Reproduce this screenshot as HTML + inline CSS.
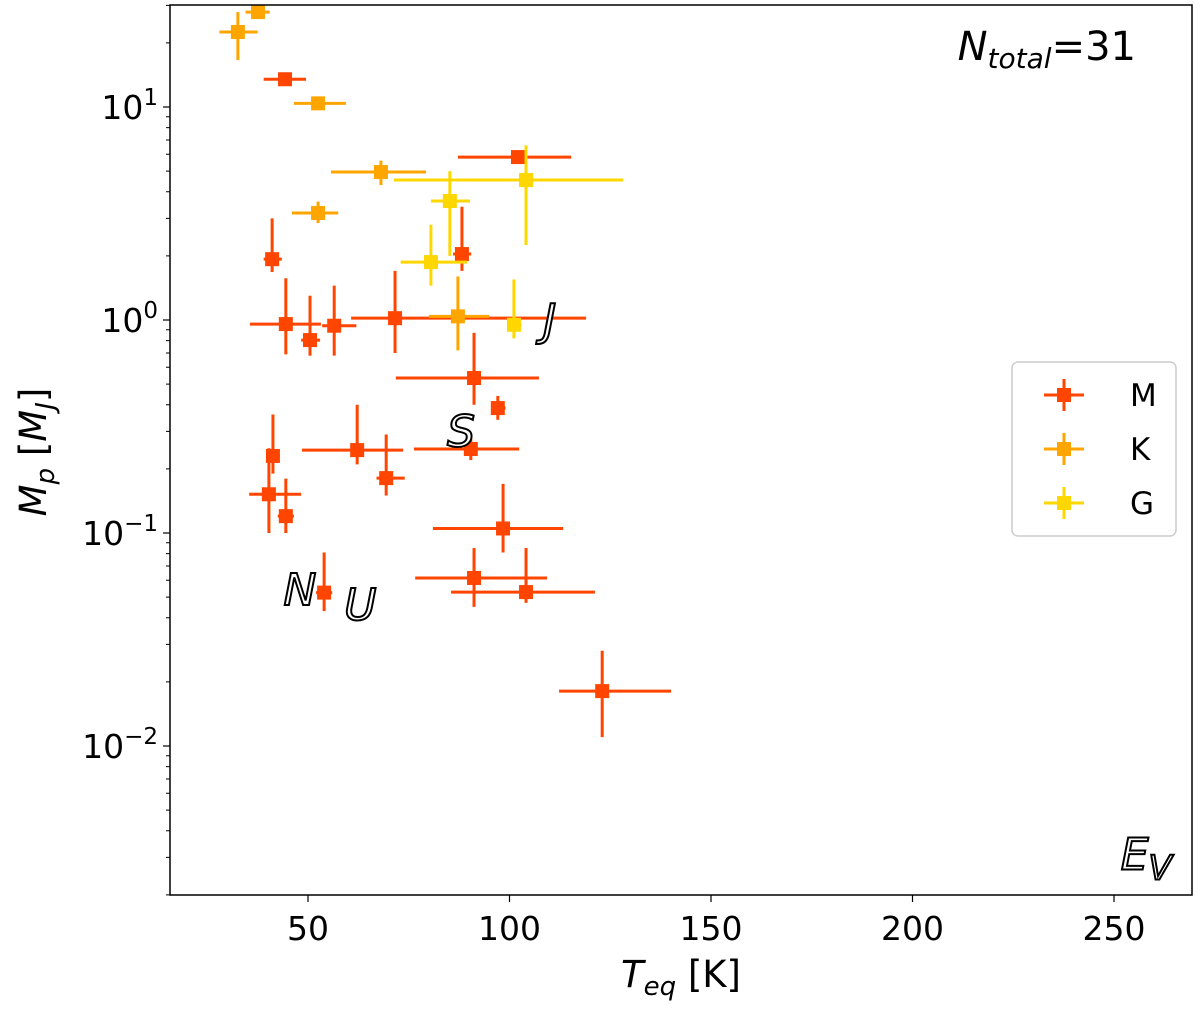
<!DOCTYPE html>
<html><head><meta charset="utf-8"><style>
html,body{margin:0;padding:0;background:#fff}
svg{display:block;font-family:"DejaVu Sans","Liberation Sans",sans-serif}
</style></head><body>
<svg id="chart" width="1200" height="1011" viewBox="0 0 1200 1011" xmlns="http://www.w3.org/2000/svg">
<g id="marks"></g>
<g id="axes"></g>
</svg>
<script>
const xTicks = [50, 100, 150, 200, 250];
const yTickExps = [1, 0, -1, -2];
const typeNames = ["M", "K", "G"];
const typeColors = ["#ff4500", "#ffa500", "#ffd700"];
// per-point data: spectral type index, Teq, Teq low, Teq high, Mp, Mp low, Mp high
const ptType = [1,1,0,1,0,1,2,2,1,0,0,2,0,0,0,0,1,2,0,0,0,0,0,0,0,0,0,0,0,0,0];
const ptT   = [32.6,37.6,44.3,52.5,102.1,68.1,104.1,85.2,52.5,41.1,88.2,80.5,44.5,50.5,56.5,71.6,87.2,101.1,91.2,97.1,90.4,62.2,69.4,41.3,40.3,44.5,98.4,91.2,104.1,54.0,123.0];
const ptTlo = [28.0,34.5,39.0,46.5,87.2,55.7,71.3,80.5,46.0,39.0,86.0,73.0,35.6,48.3,53.5,60.7,80.0,99.5,71.8,95.5,76.3,48.5,67.0,39.8,35.4,42.5,81.0,76.6,85.5,52.0,112.3];
const ptThi = [37.5,40.5,49.5,59.4,115.3,79.3,128.2,90.2,57.5,43.5,90.5,89.5,53.2,53.0,62.0,119.0,95.0,103.0,107.3,99.0,102.4,73.6,74.0,43.0,48.3,46.5,113.3,109.3,121.2,56.0,140.1];
const ptM   = [22.5,27.9,13.5,10.4,5.82,4.95,4.54,3.62,3.18,1.93,2.04,1.87,0.957,0.805,0.94,1.02,1.04,0.95,0.534,0.386,0.248,0.245,0.181,0.23,0.152,0.12,0.105,0.0615,0.0528,0.0525,0.0181];
const ptMlo = [16.6,26.5,12.9,9.8,5.5,4.3,2.25,2.0,2.85,1.68,1.70,1.45,0.69,0.68,0.68,0.70,0.72,0.82,0.40,0.34,0.22,0.21,0.15,0.19,0.10,0.10,0.081,0.045,0.047,0.043,0.011];
const ptMhi = [27.9,29.5,14.2,11.0,6.2,5.6,6.6,5.0,3.6,3.0,3.4,2.8,1.57,1.30,1.45,1.70,1.60,1.55,0.87,0.44,0.28,0.40,0.29,0.36,0.25,0.18,0.17,0.085,0.085,0.081,0.028];
const solarNames = ["J","S","N","U","E"];
const solarT = [110,88,48,63,258];
const solarM = [1,0.3,0.054,0.046,0.0031];

const L=170,R=1192,T=5,B=895;
const X=v=>308+(v-50)*4.03;
const Y=m=>320-Math.log10(m)*213;
const NS="http://www.w3.org/2000/svg";
function mk(tag,attrs,parent,text){const e=document.createElementNS(NS,tag);for(const k in attrs)e.setAttribute(k,attrs[k]);if(text!==undefined)e.textContent=text;parent.appendChild(e);return e;}
const marks=document.getElementById('marks'), axes=document.getElementById('axes');

for(let i=0;i<ptT.length;i++){
  const c=typeColors[ptType[i]];
  const g=mk('g',{},marks);
  
  
  mk('line',{x1:X(ptTlo[i]),x2:X(ptThi[i]),y1:Y(ptM[i]),y2:Y(ptM[i]),stroke:c,'stroke-width':3},g);
  mk('line',{x1:X(ptT[i]),x2:X(ptT[i]),y1:Y(ptMlo[i]),y2:Y(ptMhi[i]),stroke:c,'stroke-width':3},g);
  mk('rect',{x:X(ptT[i])-7,y:Y(ptM[i])-7,width:14,height:14,fill:c},g);
}
for(let i=0;i<solarNames.length;i++){
  const t=mk('text',{x:X(solarT[i]),y:Y(solarM[i])+15,'font-size':44,'font-style':'italic','text-anchor':'middle',fill:'#fff',stroke:'#000','stroke-width':2},marks,solarNames[i]);
  
  
  if(solarNames[i]==="E"){mk('tspan',{'font-size':34,dy:10},t,"V");}
}
const fr=mk('rect',{x:L,y:T,width:R-L,height:B-T,fill:'none',stroke:'#000','stroke-width':1.5},axes);


for(const v of xTicks){
  mk('line',{x1:X(v),x2:X(v),y1:B,y2:B+7,stroke:'#000','stroke-width':1.2},axes);
  const t=mk('text',{x:X(v),y:B+45,'font-size':33,'text-anchor':'middle'},axes,String(v));
  
  
}
for(let d=-3;d<=1;d++)for(let k=2;k<=9;k++){const y=Y(k*Math.pow(10,d));if(y>T&&y<B)mk('line',{x1:L-4,x2:L,y1:y,y2:y,stroke:'#000','stroke-width':1},axes);}
for(const e of yTickExps){
  const y=Y(Math.pow(10,e));
  mk('line',{x1:L-7,x2:L,y1:y,y2:y,stroke:'#000','stroke-width':1.2},axes);
  const t=mk('text',{x:L-12,y:y+12,'font-size':33,'text-anchor':'end'},axes,'10');
  mk('tspan',{'font-size':23,dy:-14},t,String(e).replace('-','\u2212'));
  
  
}
const xl=mk('text',{x:681,y:987,'font-size':37,'text-anchor':'middle'},axes);
mk('tspan',{'font-style':'italic'},xl,'T');mk('tspan',{'font-style':'italic','font-size':26,dy:8},xl,'eq');mk('tspan',{dy:-8},xl,' [K]');


const yl=mk('text',{x:0,y:0,'font-size':37,'text-anchor':'middle',transform:'translate(46,452) rotate(-90)'},axes);
mk('tspan',{'font-style':'italic'},yl,'M');mk('tspan',{'font-style':'italic','font-size':26,dy:8},yl,'p');mk('tspan',{dy:-8},yl,' [');mk('tspan',{'font-style':'italic'},yl,'M');mk('tspan',{'font-style':'italic','font-size':26,dy:8},yl,'J');mk('tspan',{dy:-8},yl,']');


const nt=mk('text',{x:1136,y:60,'font-size':40,'text-anchor':'end'},axes);
mk('tspan',{'font-style':'italic'},nt,'N');mk('tspan',{'font-style':'italic','font-size':28,dy:8},nt,'total');mk('tspan',{dy:-8},nt,'=31');


const lg=mk('g',{},axes);


mk('rect',{x:1012,y:362,width:164,height:174,rx:6,fill:'#fff',stroke:'#ccc','stroke-width':1.5},lg);
for(let i=0;i<typeNames.length;i++){
  const y=395+i*54, c=typeColors[i];
  const e=mk('g',{},lg);
  
  
  mk('line',{x1:1044,x2:1084,y1:y,y2:y,stroke:c,'stroke-width':3},e);
  mk('line',{x1:1064,x2:1064,y1:y-16,y2:y+16,stroke:c,'stroke-width':3},e);
  mk('rect',{x:1057,y:y-7,width:14,height:14,fill:c},e);
  mk('text',{x:1130,y:y+11,'font-size':31},e,typeNames[i]);
}
</script>
</body></html>
